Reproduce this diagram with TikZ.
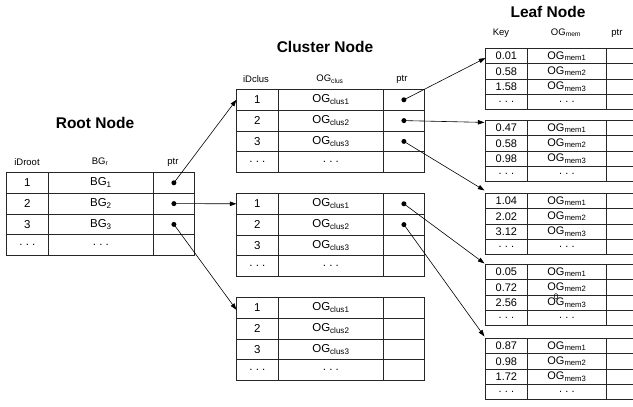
\documentclass[tikz,border=0pt]{standalone}
\usepackage{fontspec}
\setmainfont{Liberation Sans}
\usetikzlibrary{arrows.meta,matrix}

\newcommand\cellfont{\fontsize{11.5}{13}\selectfont}
\newcommand\leaffont{\fontsize{11}{12}\selectfont}
\newcommand\headfont{\fontsize{9.5}{11}\selectfont}
\newcommand\titlefont{\fontsize{15.5}{18}\selectfont\bfseries}
\newcommand\etc{.\hspace{0.28em}.\hspace{0.28em}.}

\tikzset{
  tab/.style={matrix of nodes, nodes in empty cells, anchor=north west,
    inner sep=0pt, outer sep=0pt, row sep=-0.8pt, column sep=-0.8pt,
    nodes={draw=black!85, line width=0.8pt, inner sep=0pt, outer sep=0pt,
      anchor=center, font=\cellfont}},
  roottab/.style={tab, nodes={minimum height=20.8pt},
    column 1/.style={nodes={minimum width=42pt}},
    column 2/.style={nodes={minimum width=105pt}},
    column 3/.style={nodes={minimum width=41pt}}},
  clustab/.style={roottab},
  leaftab/.style={tab, nodes={minimum height=15.3pt, font=\leaffont},
    column 1/.style={nodes={minimum width=42pt}},
    column 2/.style={nodes={minimum width=79pt}},
    column 3/.style={nodes={minimum width=70pt}}},
  head/.style={font=\headfont, inner sep=0pt},
  title/.style={font=\titlefont, inner sep=0pt},
  dot/.style={circle, fill=black, inner sep=0pt, minimum size=5pt},
  arr/.style={line width=0.6pt, -{Triangle[length=6.5pt,width=4.5pt]}}
}

\begin{document}
\begin{tikzpicture}[x=1pt,y=-1pt]
\useasboundingbox (0,0) rectangle (633,407);
\clip (0,0) rectangle (633,407);
\fill[white] (0,0) rectangle (633,407);

% titles
\node[title] (troot) at (95,123) {Root Node};
\node[title] (tclus) at (325,47) {Cluster Node};
\node[title] (tleaf) at (548,12) {Leaf Node};

% column headings
\node[head] (hr1) at (27,162) {iDroot};
\node[head] (hr2) at (100,162) {BG\textsubscript{r}};
\node[head] (hr3) at (173,162) {ptr};
\node[head] (hc1) at (256,79) {iDclus};
\node[head] (hc2) at (330,79) {OG\textsubscript{clus}};
\node[head] (hc3) at (402,79) {ptr};
\node[head] (hl1) at (501,33) {Key};
\node[head] (hl2) at (566,33) {OG\textsubscript{mem}};
\node[head] (hl3) at (617,33) {ptr};

% root table
\matrix (r) [roottab] at (6,172) {
  1 & BG\textsubscript{1} & \\
  2 & BG\textsubscript{2} & \\
  3 & BG\textsubscript{3} & \\
  \etc & \etc & \\
};

% cluster tables
\matrix (c1) [clustab] at (236,89) {
  1 & OG\textsubscript{clus1} & \\
  2 & OG\textsubscript{clus2} & \\
  3 & OG\textsubscript{clus3} & \\
  \etc & \etc & \\
};
\matrix (c2) [clustab] at (236,193) {
  1 & OG\textsubscript{clus1} & \\
  2 & OG\textsubscript{clus2} & \\
  3 & OG\textsubscript{clus3} & \\
  \etc & \etc & \\
};
\matrix (c3) [clustab] at (236,297) {
  1 & OG\textsubscript{clus1} & \\
  2 & OG\textsubscript{clus2} & \\
  3 & OG\textsubscript{clus3} & \\
  \etc & \etc & \\
};

% leaf tables
\matrix (l1) [leaftab] at (485,48) {
  0.01 & OG\textsubscript{mem1} & \\
  0.58 & OG\textsubscript{mem2} & \\
  1.58 & OG\textsubscript{mem3} & \\
  \etc & \etc & \\
};
\matrix (l2) [leaftab] at (485,120) {
  0.47 & OG\textsubscript{mem1} & \\
  0.58 & OG\textsubscript{mem2} & \\
  0.98 & OG\textsubscript{mem3} & \\
  \etc & \etc & \\
};
\matrix (l3) [leaftab] at (485,193) {
  1.04 & OG\textsubscript{mem1} & \\
  2.02 & OG\textsubscript{mem2} & \\
  3.12 & OG\textsubscript{mem3} & \\
  \etc & \etc & \\
};
\matrix (l4) [leaftab] at (485,264) {
  0.05 & OG\textsubscript{mem1} & \\
  0.72 & OG\textsubscript{mem2} & \\
  2.56 & OG\textsubscript{mem3} & \\
  \etc & \etc & \\
};
\matrix (l5) [leaftab] at (485,338) {
  0.87 & OG\textsubscript{mem1} & \\
  0.98 & OG\textsubscript{mem2} & \\
  1.72 & OG\textsubscript{mem3} & \\
  \etc & \etc & \\
};
\node[font=\fontsize{8}{8}\selectfont, inner sep=0pt] (stray) at (556,297) {0};

% pointer dots
\node[dot] (rp1) at (r-1-3) {};
\node[dot] (rp2) at (r-2-3) {};
\node[dot] (rp3) at (r-3-3) {};
\node[dot] (cp1) at (c1-1-3) {};
\node[dot] (cp2) at (c1-2-3) {};
\node[dot] (cp3) at (c1-3-3) {};
\node[dot] (cp4) at (c2-1-3) {};
\node[dot] (cp5) at (c2-2-3) {};

% root -> cluster
\draw[arr] (rp1.center) -- (c1-1-1.west);
\draw[arr] (rp2.center) -- (c2-1-1.west);
\draw[arr] (rp3.center) -- ([yshift=-2pt]c3-1-1.west);

% cluster -> leaf
\draw[arr] (cp1.center) -- ([yshift=-2pt]l1-1-1.west);
\draw[arr] (cp2.center) -- ([xshift=-1pt,yshift=-2pt]l2-1-1.north west);
\draw[arr] (cp3.center) -- ([xshift=-1pt,yshift=3pt]l3-1-1.north west);
\draw[arr] (cp4.center) -- ([xshift=-1pt,yshift=1pt]l4-1-1.north west);
\draw[arr] (cp5.center) -- ([xshift=-1pt,yshift=2pt]l5-1-1.north west);
\end{tikzpicture}
\end{document}
